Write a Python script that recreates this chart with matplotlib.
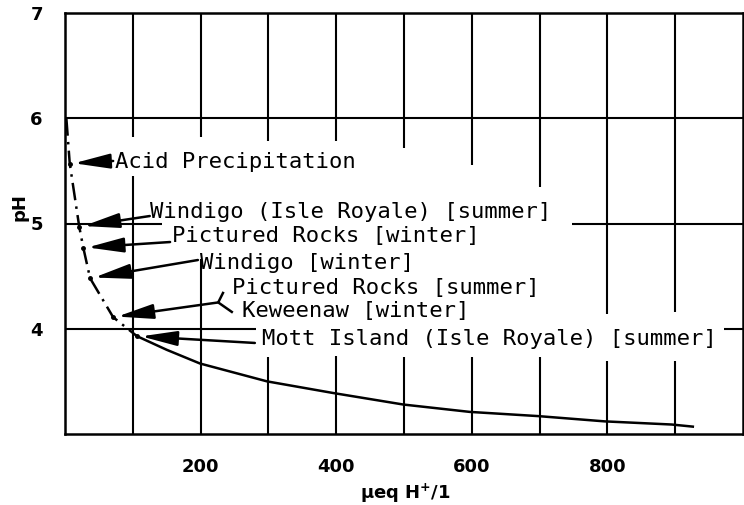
import matplotlib.pyplot as plt

# curve: H+ (ueq/l) and pH
h_dash = [2, 7, 21, 27, 37, 71, 106]
ph_dash = [6.0, 5.57, 4.97, 4.77, 4.48, 4.11, 3.93]
h_solid = [106, 150, 199, 298, 395, 499, 597, 698, 796, 895, 926]
ph_solid = [3.93, 3.80, 3.67, 3.50, 3.39, 3.28, 3.21, 3.17, 3.12, 3.09, 3.07]

# marked sites on the curve
site_h = [7, 21, 27, 37, 71, 106]
site_ph = [5.57, 4.97, 4.77, 4.48, 4.11, 3.93]
site_labels = ["Acid Precipitation",
               "Windigo (Isle Royale) [summer]",
               "Pictured Rocks [winter]",
               "Windigo [winter]",
               "Pictured Rocks [summer]",
               "Mott Island (Isle Royale) [summer]"]
extra_label = "Keweenaw [winter]"

x_ticks = [200, 400, 600, 800]
y_ticks = [4, 5, 6, 7]

fig = plt.figure(figsize=(7.44, 5.05), dpi=100)
ax = fig.add_axes([65/744, 1-434/505, 678/744, 421/505])
ax.set_xlim(0, 1000)
ax.set_ylim(3, 7)

for s in ax.spines.values():
    s.set_linewidth(1.8)

# broken grid, as in the printed figure
glw = 1.5
grid_v = [(100, 5.82, 5.45), (200, 5.82, 4.66), (300, 5.78, 3.73),
          (400, 5.78, 3.74), (500, 5.72, 3.73), (600, 5.56, 3.73),
          (700, 5.35, 3.73), (800, 4.14, 3.69), (900, 4.16, 3.69)]
for gx, top_end, low_end in grid_v:
    ax.vlines(gx, top_end, 7, color='black', lw=glw)
    ax.vlines(gx, 3, low_end, color='black', lw=glw)
ax.hlines(6, 0, 1000, color='black', lw=glw)
ax.hlines(5, 0, 143, color='black', lw=glw)
ax.hlines(5, 748, 1000, color='black', lw=glw)
ax.hlines(4, 0, 282, color='black', lw=glw)
ax.hlines(4, 972, 1000, color='black', lw=glw)

# the curve
ax.plot(h_dash, ph_dash, color='black', lw=1.8, ls=(0, (7, 2.5, 1, 2.5)))
ax.plot(h_solid, ph_solid, color='black', lw=1.8)
ax.plot(site_h, site_ph, 'o', color='black', ms=2.5)

# labels and arrows
txt_pos = [(74, 5.589), (125, 5.114), (158, 4.88), (199, 4.62),
           (247, 4.387), (290, 3.90)]
tails = [(71, 5.594), (125, 5.071), (155, 4.824), (196, 4.653),
         (226, 4.25), (280, 3.865)]
arrow = dict(arrowstyle='-|>,head_length=2.2,head_width=0.45',
             mutation_scale=10, color='black', lw=1.8,
             shrinkA=0, shrinkB=3)
tfont = dict(family='DejaVu Sans Mono', fontsize=16, va='center', ha='left')
for lab, (tx, ty), tail, hx, hy in zip(site_labels, txt_pos, tails,
                                       site_h, site_ph):
    ax.text(tx, ty, lab, **tfont)
    ax.annotate('', xy=(hx, hy), xytext=tail, arrowprops=arrow)
ax.text(261, 4.169, extra_label, **tfont)
# forked tail joining the two labels
ax.plot([233, 226, 246], [4.34, 4.25, 4.16], color='black', lw=1.8)

ax.set_xticks(x_ticks)
ax.set_xticklabels([str(v) for v in x_ticks], fontsize=13, fontweight='bold')
ax.set_yticks(y_ticks)
ax.set_yticklabels([str(v) for v in y_ticks], fontsize=13, fontweight='bold')
ax.tick_params(axis='x', length=0, pad=17)
ax.tick_params(axis='y', length=0, pad=16)

fig.text(20/744, 1-207/505, 'pH', rotation=90, ha='center', va='center',
         fontsize=13, fontweight='bold')
fig.text(405/744, 1-493/505, r'µeq H$^{\mathbf{+}}$/1', ha='center',
         va='center', fontsize=13, fontweight='bold')

fig.savefig('out.png', dpi=100)
